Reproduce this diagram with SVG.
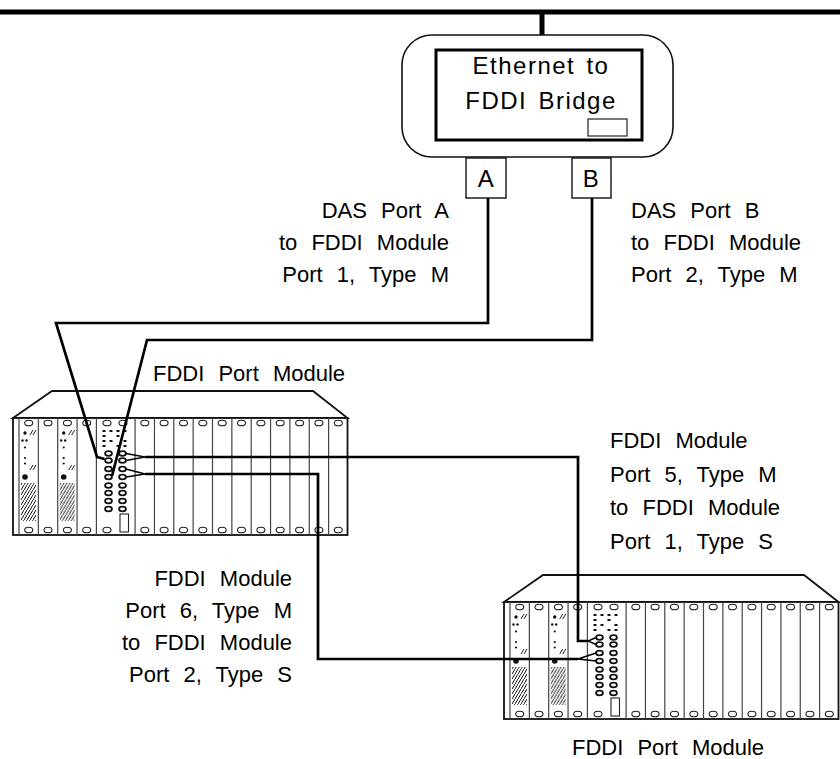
<svg xmlns="http://www.w3.org/2000/svg" xmlns:xlink="http://www.w3.org/1999/xlink" width="840" height="759" viewBox="0 0 840 759">
  <style>
    .lbl { font-family: "Liberation Sans", Arial, Helvetica, sans-serif; font-size: 22px; fill: #000; word-spacing: 8px; }
    .title { font-family: "Liberation Sans", Arial, Helvetica, sans-serif; font-size: 24px; fill: #000; letter-spacing: 1.5px; word-spacing: 3px; }
    .edge { fill: #fff; stroke: #111; stroke-width: 1.8; }
    .slot { stroke: #444; stroke-width: 1.2; }
    .hole { fill: #fff; stroke: #222; stroke-width: 1.1; }
    .port { fill: #fff; stroke: #111; stroke-width: 1.8; }
    .led { fill: #111; }
    .tick { stroke: #222; stroke-width: 1; }
    .wire { fill: none; stroke: #000; stroke-width: 2.7; stroke-linejoin: miter; }
    .fan { fill: none; stroke: #000; stroke-width: 1.4; }
  </style>
  <defs>
    <pattern id="hatch" patternUnits="userSpaceOnUse" width="3" height="5">
      <path d="M-0.5,5.8 L3.5,-0.8" stroke="#111" stroke-width="1"/>
    </pattern>

    <!-- controller card with status LEDs and vent hatching -->
    <g id="card">
      <circle class="led" cx="25" cy="433" r="1.7"/>
      <line class="tick" x1="30" y1="435" x2="33" y2="430"/>
      <line class="tick" x1="33" y1="435" x2="36" y2="430"/>
      <circle class="led" cx="22.5" cy="440.5" r="1.2"/>
      <circle class="led" cx="26.5" cy="440.5" r="1.2"/>
      <circle class="led" cx="25" cy="447.5" r="1.1"/>
      <circle class="led" cx="25" cy="458" r="1.1"/>
      <circle class="led" cx="25" cy="463.5" r="1.1"/>
      <line class="tick" x1="30" y1="470" x2="33" y2="465"/>
      <line class="tick" x1="33" y1="470" x2="36" y2="465"/>
      <circle class="led" cx="25" cy="477" r="2.8"/>
      <rect x="21" y="483" width="15" height="38" fill="url(#hatch)"/>
    </g>

    <!-- 17-slot hub chassis -->
    <g id="chassis">
      <polygon class="edge" points="13,418 52,391 313,391 347.5,418"/>
      <rect class="edge" x="13" y="418" width="334.5" height="117"/>
      <line class="slot" x1="19" y1="418" x2="19" y2="535"/>
      <g class="slot">
        <line x1="38.35" y1="418" x2="38.35" y2="535"/>
        <line x1="57.7" y1="418" x2="57.7" y2="535"/>
        <line x1="77.05" y1="418" x2="77.05" y2="535"/>
        <line x1="96.4" y1="418" x2="96.4" y2="535"/>
        <line x1="135.1" y1="418" x2="135.1" y2="535"/>
        <line x1="154.45" y1="418" x2="154.45" y2="535"/>
        <line x1="173.8" y1="418" x2="173.8" y2="535"/>
        <line x1="193.15" y1="418" x2="193.15" y2="535"/>
        <line x1="212.5" y1="418" x2="212.5" y2="535"/>
        <line x1="231.85" y1="418" x2="231.85" y2="535"/>
        <line x1="251.2" y1="418" x2="251.2" y2="535"/>
        <line x1="270.55" y1="418" x2="270.55" y2="535"/>
        <line x1="289.9" y1="418" x2="289.9" y2="535"/>
        <line x1="309.25" y1="418" x2="309.25" y2="535"/>
        <line x1="328.6" y1="418" x2="328.6" y2="535"/>
      </g>
      <!-- slot retaining screws, top row -->
      <g class="hole">
        <ellipse cx="28.7" cy="423" rx="4" ry="2.8"/>
        <ellipse cx="48" cy="423" rx="4" ry="2.8"/>
        <ellipse cx="67.4" cy="423" rx="4" ry="2.8"/>
        <ellipse cx="86.7" cy="423" rx="4" ry="2.8"/>
        <ellipse cx="107" cy="423" rx="4" ry="2.8"/>
        <ellipse cx="123" cy="423" rx="4" ry="2.8"/>
        <ellipse cx="144.8" cy="423" rx="4" ry="2.8"/>
        <ellipse cx="164.1" cy="423" rx="4" ry="2.8"/>
        <ellipse cx="183.5" cy="423" rx="4" ry="2.8"/>
        <ellipse cx="202.8" cy="423" rx="4" ry="2.8"/>
        <ellipse cx="222.2" cy="423" rx="4" ry="2.8"/>
        <ellipse cx="241.5" cy="423" rx="4" ry="2.8"/>
        <ellipse cx="260.9" cy="423" rx="4" ry="2.8"/>
        <ellipse cx="280.2" cy="423" rx="4" ry="2.8"/>
        <ellipse cx="299.6" cy="423" rx="4" ry="2.8"/>
        <ellipse cx="318.9" cy="423" rx="4" ry="2.8"/>
        <ellipse cx="338.3" cy="423" rx="4" ry="2.8"/>
      </g>
      <!-- slot retaining screws, bottom row -->
      <g class="hole">
        <ellipse cx="28.7" cy="530" rx="4" ry="2.8"/>
        <ellipse cx="48" cy="530" rx="4" ry="2.8"/>
        <ellipse cx="67.4" cy="530" rx="4" ry="2.8"/>
        <ellipse cx="86.7" cy="530" rx="4" ry="2.8"/>
        <ellipse cx="107" cy="530" rx="4" ry="2.8"/>
        <ellipse cx="144.8" cy="530" rx="4" ry="2.8"/>
        <ellipse cx="164.1" cy="530" rx="4" ry="2.8"/>
        <ellipse cx="183.5" cy="530" rx="4" ry="2.8"/>
        <ellipse cx="202.8" cy="530" rx="4" ry="2.8"/>
        <ellipse cx="222.2" cy="530" rx="4" ry="2.8"/>
        <ellipse cx="241.5" cy="530" rx="4" ry="2.8"/>
        <ellipse cx="260.9" cy="530" rx="4" ry="2.8"/>
        <ellipse cx="280.2" cy="530" rx="4" ry="2.8"/>
        <ellipse cx="299.6" cy="530" rx="4" ry="2.8"/>
        <ellipse cx="318.9" cy="530" rx="4" ry="2.8"/>
        <ellipse cx="338.3" cy="530" rx="4" ry="2.8"/>
      </g>
      <rect x="120" y="514" width="8.5" height="18" fill="#fff" stroke="#222" stroke-width="1.1"/>

      <use xlink:href="#card"/>
      <use xlink:href="#card" x="38.7"/>

      <!-- FDDI port module: indicator grid and 8 x 2 ports -->
      <g class="led">
        <rect x="102.5" y="430" width="3" height="2"/>
        <rect x="109.5" y="430" width="3" height="2"/>
        <rect x="116.5" y="430" width="3" height="2"/>
        <rect x="123.5" y="430" width="3" height="2"/>
        <rect x="102.5" y="435" width="3" height="2"/>
        <rect x="116.5" y="435" width="3" height="2"/>
        <rect x="102.5" y="440" width="3" height="2"/>
        <rect x="109.5" y="440" width="3" height="2"/>
        <rect x="123.5" y="440" width="3" height="2"/>
        <rect x="102.5" y="445" width="3" height="2"/>
        <rect x="116.5" y="445" width="3" height="2"/>
        <rect x="123.5" y="445" width="3" height="2"/>
      </g>
      <g class="port">
        <ellipse cx="108.5" cy="453.5" rx="3.4" ry="2.3"/>
        <ellipse cx="122.5" cy="453.5" rx="3.4" ry="2.3"/>
        <ellipse cx="108.5" cy="460.5" rx="3.4" ry="2.3"/>
        <ellipse cx="122.5" cy="460.5" rx="3.4" ry="2.3"/>
        <ellipse cx="108.5" cy="469" rx="3.4" ry="2.3"/>
        <ellipse cx="122.5" cy="469" rx="3.4" ry="2.3"/>
        <ellipse cx="108.5" cy="477" rx="3.4" ry="2.3"/>
        <ellipse cx="122.5" cy="477" rx="3.4" ry="2.3"/>
        <ellipse cx="108.5" cy="485.5" rx="3.4" ry="2.3"/>
        <ellipse cx="122.5" cy="485.5" rx="3.4" ry="2.3"/>
        <ellipse cx="108.5" cy="493" rx="3.4" ry="2.3"/>
        <ellipse cx="122.5" cy="493" rx="3.4" ry="2.3"/>
        <ellipse cx="108.5" cy="501" rx="3.4" ry="2.3"/>
        <ellipse cx="122.5" cy="501" rx="3.4" ry="2.3"/>
        <ellipse cx="108.5" cy="509" rx="3.4" ry="2.3"/>
        <ellipse cx="122.5" cy="509" rx="3.4" ry="2.3"/>
      </g>
    </g>
  </defs>

  <rect width="840" height="759" fill="#fff"/>

  <!-- Ethernet backbone -->
  <g id="ethernet">
    <line x1="0" y1="12" x2="840" y2="12" stroke="#000" stroke-width="5"/>
    <line x1="542" y1="12" x2="542" y2="36" stroke="#000" stroke-width="5"/>
  </g>

  <!-- bridge -->
  <g id="bridge">
    <rect x="402" y="35" width="271" height="122" rx="30" ry="30" fill="#fff" stroke="#111" stroke-width="1.6"/>
    <rect x="436" y="50" width="206" height="90" fill="#fff" stroke="#000" stroke-width="3"/>
    <rect x="588" y="119" width="39" height="17" fill="#fff" stroke="#222" stroke-width="1.2"/>
    <text class="title" x="541" y="74" text-anchor="middle">Ethernet to</text>
    <text class="title" x="541" y="109" text-anchor="middle">FDDI Bridge</text>
  </g>
  <g id="port-a">
    <rect x="466" y="158" width="40" height="40" fill="#fff" stroke="#111" stroke-width="1.4"/>
    <text class="title" x="486.5" y="187" text-anchor="middle" letter-spacing="0">A</text>
  </g>
  <g id="port-b">
    <rect x="572" y="158" width="39" height="40" fill="#fff" stroke="#111" stroke-width="1.4"/>
    <text class="title" x="591.5" y="187" text-anchor="middle" letter-spacing="0">B</text>
  </g>

  <!-- hub chassis -->
  <g id="hub-upper">
    <use xlink:href="#chassis"/>
  </g>
  <g id="hub-lower">
    <use xlink:href="#chassis" transform="translate(491,184)"/>
  </g>

  <!-- fibre links -->
  <g id="connectors">
    <polyline class="wire" points="488,198 488,323 56,323 97,457 104.5,459"/>
    <polyline class="wire" points="592,198 592,340 147,340 112,476"/>
    <polyline class="wire" points="145,457 578,457 578,641 588,641"/>
    <polyline class="wire" points="145,474 318,474 318,659 578,659"/>
    <path class="fan" d="M126,453.5 L145,457 L126,460.5 M126,469 L145,474 L126,477"/>
    <path class="fan" d="M596,637.5 L588,641 L596,644.5 M596,653 L578,659 L596,661"/>
  </g>

  <!-- labels -->
  <g id="labels">
    <text class="lbl" x="449" y="218" text-anchor="end">DAS Port A</text>
    <text class="lbl" x="449" y="250" text-anchor="end">to FDDI Module</text>
    <text class="lbl" x="449" y="282" text-anchor="end">Port 1, Type M</text>

    <text class="lbl" x="631" y="218">DAS Port B</text>
    <text class="lbl" x="631" y="250">to FDDI Module</text>
    <text class="lbl" x="631" y="282">Port 2, Type M</text>

    <text class="lbl" x="153" y="381">FDDI Port Module</text>

    <text class="lbl" x="610" y="448">FDDI Module</text>
    <text class="lbl" x="610" y="481.5">Port 5, Type M</text>
    <text class="lbl" x="610" y="515">to FDDI Module</text>
    <text class="lbl" x="610" y="548.5">Port 1, Type S</text>

    <text class="lbl" x="292" y="586" text-anchor="end">FDDI Module</text>
    <text class="lbl" x="292" y="618" text-anchor="end">Port 6, Type M</text>
    <text class="lbl" x="292" y="650" text-anchor="end">to FDDI Module</text>
    <text class="lbl" x="292" y="682" text-anchor="end">Port 2, Type S</text>

    <text class="lbl" x="572" y="755">FDDI Port Module</text>
  </g>
</svg>
